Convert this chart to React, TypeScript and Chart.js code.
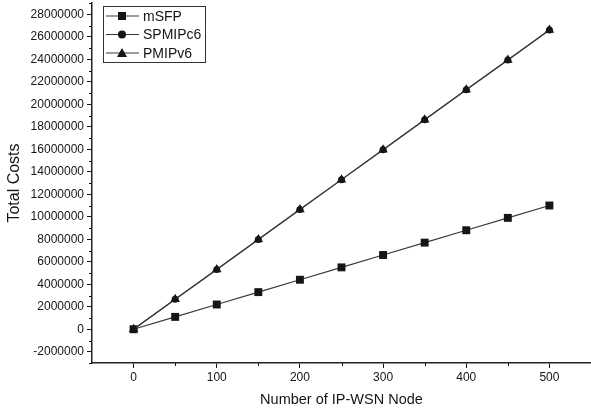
import React, { useEffect, useRef } from "react";
import { Chart, registerables } from "chart.js";

Chart.register(...registerables);

const nodes = [0, 50, 100, 150, 200, 250, 300, 350, 400, 450, 500];
const mSFP = [0, 1100000, 2200000, 3300000, 4400000, 5500000, 6600000, 7700000, 8800000, 9900000, 11000000];
const SPMIPc6 = [0, 2660000, 5320000, 7980000, 10640000, 13300000, 15960000, 18620000, 21280000, 23940000, 26600000];
const PMIPv6 = [0, 2660000, 5320000, 7980000, 10640000, 13300000, 15960000, 18620000, 21280000, 23940000, 26600000];
const seriesNames = ["mSFP", "SPMIPc6", "PMIPv6"];
const seriesMarkers = ["rect", "circle", "triangle"];
const xTickValues = [0, 100, 200, 300, 400, 500];
const yTickValues = [-2000000, 0, 2000000, 4000000, 6000000, 8000000, 10000000, 12000000, 14000000, 16000000, 18000000, 20000000, 22000000, 24000000, 26000000, 28000000];
const xTitle = "Number of IP-WSN Node";
const yTitle = "Total Costs";

const FONT = "'Liberation Sans', Arial, sans-serif";
const INK = "#151515";
const LINE = "#3a3a3a";

function drawMarker(ctx: CanvasRenderingContext2D, style: string, x: number, y: number) {
  ctx.beginPath();
  if (style === "rect") {
    ctx.rect(x - 4, y - 4, 8, 8);
  } else if (style === "circle") {
    ctx.arc(x, y, 4, 0, Math.PI * 2);
  } else {
    ctx.moveTo(x, y - 5);
    ctx.lineTo(x + 5, y + 4);
    ctx.lineTo(x - 5, y + 4);
    ctx.closePath();
  }
  ctx.fill();
}

const extrasPlugin = {
  id: "extras",
  afterDraw(chart: any) {
    const ctx: CanvasRenderingContext2D = chart.ctx;
    const xs = chart.scales.x;
    const ys = chart.scales.y;
    const area = chart.chartArea;
    ctx.save();
    ctx.strokeStyle = INK;
    ctx.lineWidth = 1;
    // minor ticks
    for (let v = -3000000; v <= 29000000; v += 1000000) {
      if (Math.abs(v / 1000000) % 2 === 1) {
        const py = Math.round(ys.getPixelForValue(v)) + 0.5;
        ctx.beginPath();
        ctx.moveTo(area.left - 3, py);
        ctx.lineTo(area.left, py);
        ctx.stroke();
      }
    }
    for (let v = 50; v <= 450; v += 100) {
      const px = Math.round(xs.getPixelForValue(v)) + 0.5;
      ctx.beginPath();
      ctx.moveTo(px, area.bottom);
      ctx.lineTo(px, area.bottom + 3);
      ctx.stroke();
    }
    // legend
    const bx = 103, by = 6, bw = 102, bh = 56;
    ctx.strokeStyle = "#333";
    ctx.lineWidth = 1;
    ctx.strokeRect(bx + 0.5, by + 0.5, bw, bh);
    const rows = [16, 34.5, 53];
    ctx.font = `14px ${FONT}`;
    ctx.textBaseline = "middle";
    ctx.textAlign = "left";
    seriesNames.forEach((name, i) => {
      const ry = rows[i];
      ctx.strokeStyle = LINE;
      ctx.lineWidth = 1.2;
      ctx.beginPath();
      ctx.moveTo(106, ry);
      ctx.lineTo(139, ry);
      ctx.stroke();
      ctx.fillStyle = INK;
      drawMarker(ctx, seriesMarkers[i], 122, ry);
      ctx.fillStyle = INK;
      ctx.fillText(name, 143, ry + 1);
    });
    ctx.restore();
  },
};

export default function App() {
  const ref = useRef<HTMLCanvasElement | null>(null);

  useEffect(() => {
    if (!ref.current) return;
    const mk = (arr: number[]) => nodes.map((n, i) => ({ x: n, y: arr[i] }));
    const chart = new Chart(ref.current, {
      type: "line",
      data: {
        datasets: [
          {
            label: seriesNames[2],
            data: mk(PMIPv6),
            borderColor: LINE,
            borderWidth: 1.2,
            pointStyle: "triangle",
            pointRadius: 5.5,
            pointBackgroundColor: INK,
            pointBorderColor: INK,
            pointBorderWidth: 0,
          },
          {
            label: seriesNames[1],
            data: mk(SPMIPc6),
            borderColor: LINE,
            borderWidth: 1.2,
            pointStyle: "circle",
            pointRadius: 3.5,
            pointBackgroundColor: INK,
            pointBorderColor: INK,
            pointBorderWidth: 0,
          },
          {
            label: seriesNames[0],
            data: mk(mSFP),
            borderColor: LINE,
            borderWidth: 1.2,
            pointStyle: "rect",
            pointRadius: 5.6,
            pointBackgroundColor: INK,
            pointBorderColor: INK,
            pointBorderWidth: 0,
          },
        ],
      },
      options: {
        responsive: false,
        animation: false,
        layout: { autoPadding: false, padding: { top: 3, right: 0, left: 0, bottom: 0 } },
        plugins: { legend: { display: false }, tooltip: { enabled: false } },
        scales: {
          x: {
            type: "linear",
            min: -50,
            max: 550,
            afterBuildTicks: (s: any) => {
              s.ticks = xTickValues.map((v) => ({ value: v }));
            },
            afterFit: (s: any) => {
              s.height = 48;
              s.paddingLeft = 0;
              s.paddingRight = 0;
            },
            ticks: {
              color: INK,
              font: { family: FONT, size: 12 },
              padding: 2,
              maxRotation: 0,
              autoSkip: false,
            },
            grid: { drawOnChartArea: false, drawTicks: true, tickLength: 5, color: INK, tickWidth: 1 },
            border: { display: true, color: "#222", width: 1.5 },
            title: {
              display: true,
              text: xTitle,
              color: INK,
              font: { family: FONT, size: 14.5 },
              padding: { top: 0, bottom: 2 },
            },
          },
          y: {
            type: "linear",
            min: -3000000,
            max: 29000000,
            afterBuildTicks: (s: any) => {
              s.ticks = yTickValues.map((v) => ({ value: v }));
            },
            afterFit: (s: any) => {
              s.width = 92;
              s.paddingTop = 0;
              s.paddingBottom = 0;
            },
            ticks: {
              color: INK,
              font: { family: FONT, size: 12 },
              padding: 3,
              autoSkip: false,
              callback: (v: any) => String(v),
            },
            grid: { drawOnChartArea: false, drawTicks: true, tickLength: 5, color: INK, tickWidth: 1 },
            border: { display: true, color: "#222", width: 1.5 },
            title: {
              display: true,
              text: yTitle,
              color: INK,
              font: { family: FONT, size: 16 },
              padding: { top: 5, bottom: 0 },
            },
          },
        },
      },
      plugins: [extrasPlugin],
    });
    return () => chart.destroy();
  }, []);

  return (
    <div style={{ position: "absolute", left: 0, top: 0, width: 591, height: 411, background: "#fff" }}>
      <canvas ref={ref} width={591} height={411} style={{ display: "block" }} />
    </div>
  );
}
